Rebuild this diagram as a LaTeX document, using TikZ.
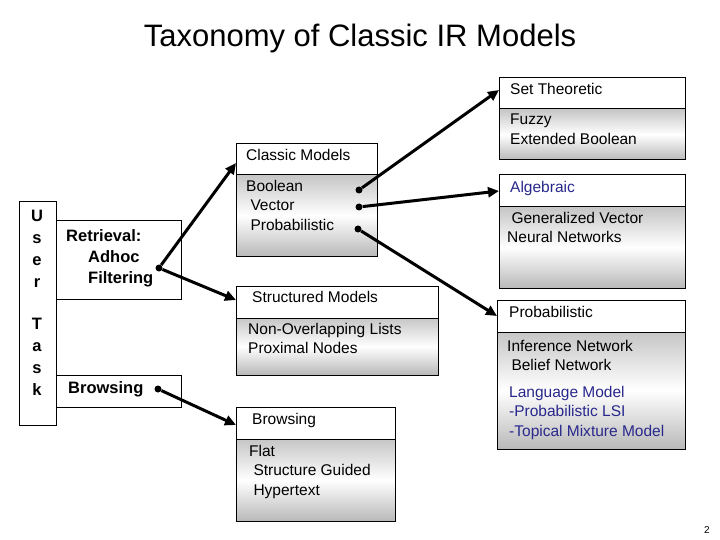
\documentclass[tikz,border=0pt]{standalone}
\usepackage{fontspec}
\setmainfont{Liberation Sans}
\usetikzlibrary{arrows.meta}
\definecolor{navy}{RGB}{40,40,140}
\begin{document}
\begin{tikzpicture}[x=1pt,y=-1pt,
  hdr/.style={draw=black,fill=white,line width=1pt},
  body/.style={draw=black,line width=1pt,top color=gray!45,bottom color=gray!55,middle color=white},
  txt/.style={anchor=north west,inner sep=0pt,font=\fontsize{15.5pt}{19.5pt}\selectfont,align=left},
  btxt/.style={txt,font=\fontsize{16.5pt}{21pt}\selectfont\bfseries},
  dot/.style={circle,fill=black,inner sep=0pt,minimum size=7pt},
  arr/.style={line width=3pt,-{Triangle[length=11pt,width=10pt]}}]
\useasboundingbox (0,0) rectangle (720,540);
\node[font=\fontsize{31pt}{36pt}\selectfont] (title) at (360,38) {Taxonomy of Classic IR Models};
% user task
\draw[line width=1pt] (19,202) rectangle (56,425);
\node[anchor=north,inner sep=0pt,align=center,font=\fontsize{16.5pt}{22pt}\selectfont\bfseries] (ut) at (37,210) {U\\s\\e\\r\\[20pt]T\\a\\s\\k};
\draw[line width=1pt] (56,221) rectangle (181,299);
\node[btxt] (ret) at (66,229) {Retrieval:\\\hspace*{22pt}Adhoc\\\hspace*{22pt}Filtering};
\draw[line width=1pt] (56,375) rectangle (181,407);
\node[btxt] (brw) at (68,381) {Browsing};
\node[dot] (rd) at (159,268) {};
\node[dot] (bd) at (158,389) {};
% classic
\draw[hdr] (236,144) rectangle (377,175);
\draw[body] (236,175) rectangle (377,256);
\node[txt] (cm) at (246,149) {Classic Models};
\node[txt] (cmb) at (246,180) {Boolean\\\ Vector\\\ Probabilistic};
\node[dot] (d1) at (359,190) {};
\node[dot] (d2) at (359,207) {};
\node[dot] (d3) at (358,229) {};
\coordinate (cmin) at (236,163);
% structured
\draw[hdr] (236,286) rectangle (438,318);
\draw[body] (236,318) rectangle (438,375);
\node[txt] (sm) at (252,291) {Structured Models};
\node[txt] (smb) at (248,323) {Non-Overlapping Lists\\Proximal Nodes};
\coordinate (smin) at (236,300);
% browsing right
\draw[hdr] (236,407) rectangle (395,439);
\draw[body] (236,439) rectangle (395,521);
\node[txt] (bm) at (252,413) {Browsing};
\node[txt] (bmb) at (249,445) {Flat\\\ Structure Guided\\\ Hypertext};
\coordinate (bmin) at (236,425);
% set theoretic
\draw[hdr] (499,78) rectangle (685,109);
\draw[body] (499,109) rectangle (685,160);
\node[txt] (st) at (510,83) {Set Theoretic};
\node[txt] (stb) at (510,114) {Fuzzy\\Extended Boolean};
\coordinate (stin) at (499,90);
% algebraic
\draw[hdr] (499,175) rectangle (685,207);
\draw[body] (499,207) rectangle (685,288);
\node[txt,text=navy] (al) at (510,181) {Algebraic};
\node[txt] (alb) at (507,212) {\ Generalized Vector\\Neural Networks};
\coordinate (alin) at (499,191);
% probabilistic
\draw[hdr] (497,300) rectangle (685,332);
\draw[body] (497,332) rectangle (685,449);
\node[txt] (pr) at (509,306) {Probabilistic};
\node[txt] (prb) at (507,340) {Inference Network\\\ Belief Network};
\node[txt,text=navy] (prl) at (509,386) {Language Model\\-Probabilistic LSI\\-Topical Mixture Model};
\coordinate (prin) at (497,316);
% arrows
\draw[arr] (rd) -- (cmin);
\draw[arr] (rd) -- (smin);
\draw[arr] (bd) -- (bmin);
\draw[arr] (d1) -- (stin);
\draw[arr] (d2) -- (alin);
\draw[arr] (d3) -- (prin);
\node[font=\fontsize{10pt}{12pt}\selectfont] (pg) at (707,530) {2};
\end{tikzpicture}
\end{document}
